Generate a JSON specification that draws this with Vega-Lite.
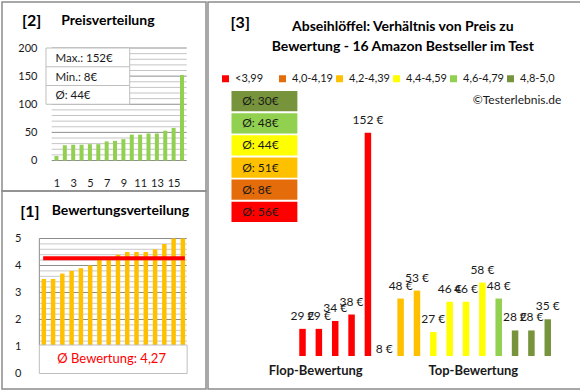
{
  "$schema": "https://vega.github.io/schema/vega-lite/v6.json",
  "padding": {"left": 1, "top": 1, "right": 0, "bottom": 0},
  "background": "white",
  "config": {
    "font": "Lato",
    "view": {"stroke": "#8c8c8c", "strokeWidth": 1.5},
    "axis": {"domain": false, "ticks": false, "tickSize": 0, "grid": false, "labelPadding": 0, "labelFont": "Lato", "labelFontSize": 11, "labelColor": "#1a1a1a", "labelFlush": false, "labelOverlap": false, "labelBound": false},
    "text": {"font": "Lato", "color": "#1a1a1a"}
  },
  "datasets": {
    "produkte": [
      {"pos": 1, "preis": 29, "bewertung": 3.5, "klasse": "<3,99"},
      {"pos": 2, "preis": 29, "bewertung": 3.5, "klasse": "<3,99"},
      {"pos": 3, "preis": 34, "bewertung": 3.7, "klasse": "<3,99"},
      {"pos": 4, "preis": 38, "bewertung": 3.8, "klasse": "<3,99"},
      {"pos": 5, "preis": 152, "bewertung": 3.9, "klasse": "<3,99"},
      {"pos": 6, "preis": 8, "bewertung": 4.0, "klasse": "4,0-4,19"},
      {"pos": 7, "preis": 48, "bewertung": 4.3, "klasse": "4,2-4,39"},
      {"pos": 8, "preis": 53, "bewertung": 4.3, "klasse": "4,2-4,39"},
      {"pos": 9, "preis": 27, "bewertung": 4.4, "klasse": "4,4-4,59"},
      {"pos": 10, "preis": 46, "bewertung": 4.5, "klasse": "4,4-4,59"},
      {"pos": 11, "preis": 46, "bewertung": 4.5, "klasse": "4,4-4,59"},
      {"pos": 12, "preis": 58, "bewertung": 4.5, "klasse": "4,4-4,59"},
      {"pos": 13, "preis": 48, "bewertung": 4.6, "klasse": "4,6-4,79"},
      {"pos": 14, "preis": 28, "bewertung": 4.8, "klasse": "4,8-5,0"},
      {"pos": 15, "preis": 28, "bewertung": 5.0, "klasse": "4,8-5,0"},
      {"pos": 16, "preis": 35, "bewertung": 5.0, "klasse": "4,8-5,0"}
    ],
    "raster2": [
      {"g": 0}, {"g": 10}, {"g": 20}, {"g": 30}, {"g": 40}, {"g": 50}, {"g": 60}, {"g": 70}, {"g": 80}, {"g": 90}, {"g": 100},
      {"g": 110}, {"g": 120}, {"g": 130}, {"g": 140}, {"g": 150}, {"g": 160}, {"g": 170}, {"g": 180}, {"g": 190}, {"g": 200}
    ],
    "raster1": [
      {"g": 1}, {"g": 1.2}, {"g": 1.4}, {"g": 1.6}, {"g": 1.8}, {"g": 2}, {"g": 2.2}, {"g": 2.4}, {"g": 2.6}, {"g": 2.8}, {"g": 3},
      {"g": 3.2}, {"g": 3.4}, {"g": 3.6}, {"g": 3.8}, {"g": 4}, {"g": 4.2}, {"g": 4.4}, {"g": 4.6}, {"g": 4.8}, {"g": 5}
    ]
  },
  "spacing": 0,
  "hconcat": [
    {
      "bounds": "flush",
      "spacing": 0,
      "vconcat": [
        {
          "width": 204,
          "height": 189,
          "data": {"name": "produkte"},
          "layer": [
            {
              "data": {"name": "raster2"},
              "mark": {"type": "rule", "strokeWidth": 1},
              "encoding": {
                "x": {"datum": 0.43, "type": "quantitative", "scale": {"domain": [-4.909, 18.273], "nice": false, "zero": false},
                      "axis": {"values": [1, 3, 5, 7, 9, 11, 13, 15], "orient": "bottom", "offset": -14, "labelBaseline": "top", "labelOverlap": false, "title": null}},
                "x2": {"datum": 16.57},
                "y": {"field": "g", "type": "quantitative", "scale": {"domain": [-54.2, 281.8], "nice": false, "zero": false},
                      "axis": {"values": [0, 50, 100, 150, 200], "orient": "left", "offset": -35, "labelOverlap": false, "title": null}},
                "color": {"condition": {"test": "datum.g % 50 === 0", "value": "#8f8f8f"}, "value": "#c4c4c4"}
              }
            },
            {
              "transform": [{"window": [{"op": "row_number", "as": "nr"}], "sort": [{"field": "preis"}]}],
              "mark": {"type": "bar", "size": 4, "color": "#92D050"},
              "encoding": {
                "x": {"field": "nr", "type": "quantitative", "scale": {"domain": [-4.909, 18.273], "nice": false, "zero": false},
                      "axis": {"values": [1, 3, 5, 7, 9, 11, 13, 15], "orient": "bottom", "offset": -14, "labelBaseline": "top", "labelOverlap": false, "title": null}},
                "y": {"field": "preis", "type": "quantitative", "scale": {"domain": [-54.2, 281.8], "nice": false, "zero": false},
                      "axis": {"values": [0, 50, 100, 150, 200], "orient": "left", "offset": -35, "labelOverlap": false, "title": null}},
                "y2": {"datum": 0}
              }
            },
            {
              "transform": [
                {"aggregate": [{"op": "max", "field": "preis", "as": "mx"}, {"op": "min", "field": "preis", "as": "mn"}, {"op": "mean", "field": "preis", "as": "avg"}]},
                {"calculate": "['Max.: ' + datum.mx + '€', 'Min.: ' + datum.mn + '€', 'Ø: ' + format(datum.avg, '.0f') + '€']", "as": "zeilen"}
              ],
              "encoding": {
                "x": {"datum": -0.25, "type": "quantitative", "scale": {"domain": [-4.909, 18.273], "nice": false, "zero": false},
                      "axis": {"values": [1, 3, 5, 7, 9, 11, 13, 15], "orient": "bottom", "offset": -14, "labelBaseline": "top", "labelOverlap": false, "title": null}},
                "x2": {"datum": 9.75},
                "y": {"datum": 100, "type": "quantitative", "scale": {"domain": [-54.2, 281.8], "nice": false, "zero": false},
                      "axis": {"values": [0, 50, 100, 150, 200], "orient": "left", "offset": -35, "labelOverlap": false, "title": null}}
              },
              "layer": [
                {
                  "mark": {"type": "rect", "fill": "#ffffff", "stroke": "#bfbfbf", "strokeWidth": 1},
                  "encoding": {"y2": {"datum": 200}}
                },
                {
                  "mark": {"type": "rule", "color": "#bfbfbf", "strokeWidth": 1},
                  "encoding": {"y": {"datum": 166.67, "type": "quantitative"}}
                },
                {
                  "mark": {"type": "rule", "color": "#bfbfbf", "strokeWidth": 1},
                  "encoding": {"y": {"datum": 133.33, "type": "quantitative"}}
                },
                {
                  "mark": {"type": "text", "align": "left", "baseline": "middle", "fontSize": 11.5, "lineHeight": 18.67},
                  "encoding": {
                    "x": {"datum": 0.886, "type": "quantitative"},
                    "x2": null,
                    "y": {"datum": 180.47, "type": "quantitative"},
                    "text": {"field": "zeilen", "type": "nominal"}
                  }
                },
                {
                  "mark": {"type": "text", "align": "center", "baseline": "middle", "fontSize": 16, "fontWeight": "bold", "color": "#000000"},
                  "encoding": {
                    "x": {"datum": -1.955, "type": "quantitative"},
                    "x2": null,
                    "y": {"datum": 248, "type": "quantitative"},
                    "text": {"value": "[2]"}
                  }
                },
                {
                  "mark": {"type": "text", "align": "left", "baseline": "middle", "fontSize": 14, "fontWeight": "bold", "color": "#000000"},
                  "encoding": {
                    "x": {"datum": 1.568, "type": "quantitative"},
                    "x2": null,
                    "y": {"datum": 248, "type": "quantitative"},
                    "text": {"value": "Preisverteilung"}
                  }
                }
              ]
            }
          ]
        },
        {
          "width": 204,
          "height": 198,
          "data": {"name": "produkte"},
          "layer": [
            {
              "data": {"name": "raster1"},
              "mark": {"type": "rule", "strokeWidth": 1},
              "encoding": {
                "x": {"datum": 0.518, "type": "quantitative", "scale": {"domain": [-2.969, 17.954], "nice": false, "zero": false}, "axis": null},
                "x2": {"datum": 16.415},
                "y": {"field": "g", "type": "quantitative", "scale": {"domain": [-0.574, 6.759], "nice": false, "zero": false},
                      "axis": {"values": [0, 1, 2, 3, 4, 5], "orient": "left", "offset": -19, "labelOverlap": false, "title": null}},
                "color": {"condition": {"test": "abs(datum.g - round(datum.g)) < 0.01", "value": "#8c8c8c"}, "value": "#c8c8c8"}
              }
            },
            {
              "transform": [{"window": [{"op": "row_number", "as": "nr"}], "sort": [{"field": "bewertung"}]}],
              "mark": {"type": "bar", "size": 4.5, "color": "#FFC000"},
              "encoding": {
                "x": {"field": "nr", "type": "quantitative", "scale": {"domain": [-2.969, 17.954], "nice": false, "zero": false}, "axis": null},
                "y": {"field": "bewertung", "type": "quantitative", "scale": {"domain": [-0.574, 6.759], "nice": false, "zero": false},
                      "axis": {"values": [0, 1, 2, 3, 4, 5], "orient": "left", "offset": -19, "labelOverlap": false, "title": null}},
                "y2": {"datum": 0}
              }
            },
            {
              "mark": {"type": "rule", "color": "#FF0000", "strokeWidth": 4},
              "encoding": {
                "x": {"datum": 0.93, "type": "quantitative", "scale": {"domain": [-2.969, 17.954], "nice": false, "zero": false}, "axis": null},
                "x2": {"datum": 16.21},
                "y": {"aggregate": "mean", "field": "bewertung", "type": "quantitative", "scale": {"domain": [-0.574, 6.759], "nice": false, "zero": false},
                      "axis": {"values": [0, 1, 2, 3, 4, 5], "orient": "left", "offset": -19, "labelOverlap": false, "title": null}}
              }
            },
            {
              "transform": [
                {"aggregate": [{"op": "mean", "field": "bewertung", "as": "m"}]},
                {"calculate": "'Ø Bewertung: ' + replace(format(datum.m, '.2f'), '.', ',')", "as": "txt"}
              ],
              "encoding": {
                "x": {"datum": 0.518, "type": "quantitative", "scale": {"domain": [-2.969, 17.954], "nice": false, "zero": false}, "axis": null},
                "y": {"datum": 0, "type": "quantitative", "scale": {"domain": [-0.574, 6.759], "nice": false, "zero": false},
                      "axis": {"values": [0, 1, 2, 3, 4, 5], "orient": "left", "offset": -19, "labelOverlap": false, "title": null}}
              },
              "layer": [
                {
                  "mark": {"type": "rule", "color": "#8c8c8c", "strokeWidth": 1},
                  "encoding": {"y": {"datum": 1.055, "type": "quantitative"}, "y2": {"datum": 5}}
                },
                {
                  "mark": {"type": "rect", "fill": "#ffffff", "stroke": "#bfbfbf", "strokeWidth": 1},
                  "encoding": {"x2": {"datum": 16.46}, "y2": {"datum": 1.055}}
                },
                {
                  "mark": {"type": "text", "color": "#FF0000", "fontSize": 13, "align": "center", "baseline": "middle"},
                  "encoding": {
                    "x": {"datum": 8.313, "type": "quantitative"},
                    "y": {"datum": 0.537, "type": "quantitative"},
                    "text": {"field": "txt", "type": "nominal"}
                  }
                },
                {
                  "mark": {"type": "text", "fontSize": 16, "fontWeight": "bold", "color": "#000000", "align": "center", "baseline": "middle"},
                  "encoding": {
                    "x": {"datum": -0.508, "type": "quantitative"},
                    "y": {"datum": 5.992, "type": "quantitative"},
                    "text": {"value": "[1]"}
                  }
                },
                {
                  "mark": {"type": "text", "fontSize": 14, "fontWeight": "bold", "color": "#000000", "align": "left", "baseline": "middle"},
                  "encoding": {
                    "x": {"datum": 1.852, "type": "quantitative"},
                    "y": {"datum": 6.018, "type": "quantitative"},
                    "text": {"value": "Bewertungsverteilung"}
                  }
                }
              ]
            }
          ]
        }
      ]
    },
    {
      "width": 373,
      "height": 387,
      "data": {"name": "produkte"},
      "resolve": {"scale": {"y": "independent"}, "axis": {"y": "independent"}},
      "layer": [
        {
          "layer": [
            {
              "transform": [{"filter": "datum.preis >= 12"}],
              "mark": {"type": "bar", "size": 6.5},
              "encoding": {
                "x": {"field": "pos", "type": "quantitative", "scale": {"domain": [-4.475, 17.727], "nice": false, "zero": false},
                      "axis": {"values": [1.774, 11.417], "labelExpr": "datum.value < 6 ? 'Flop-Bewertung' : 'Top-Bewertung'", "orient": "bottom", "offset": -19, "labelBaseline": "middle", "labelFontSize": 13, "labelFontWeight": "bold", "labelOverlap": false, "title": null}},
                "y": {"field": "preis", "type": "quantitative", "scale": {"domain": [-8.7, 233.9], "nice": false, "zero": false}, "axis": null},
                "y2": {"datum": 12},
                "color": {
                  "field": "klasse", "type": "nominal",
                  "scale": {"domain": ["<3,99", "4,0-4,19", "4,2-4,39", "4,4-4,59", "4,6-4,79", "4,8-5,0"], "range": ["#FF0000", "#E46C0A", "#FFC000", "#FFFF00", "#92D050", "#77933C"]},
                  "legend": {"orient": "none", "legendX": 218, "legendY": 71, "direction": "horizontal", "columns": 6, "gridAlign": "all", "title": null, "symbolType": "square", "symbolSize": 49, "symbolStrokeWidth": 0, "labelFontSize": 11, "labelOffset": 4, "columnPadding": 1, "labelColor": "#1a1a1a", "labelFont": "Lato"}
                }
              }
            },
            {
              "transform": [{"calculate": "datum.preis + ' €'", "as": "etikett"}],
              "mark": {"type": "text", "fontSize": 12, "dy": -13, "baseline": "middle", "align": "center"},
              "encoding": {
                "x": {"field": "pos", "type": "quantitative", "scale": {"domain": [-4.475, 17.727], "nice": false, "zero": false},
                      "axis": {"values": [1.774, 11.417], "labelExpr": "datum.value < 6 ? 'Flop-Bewertung' : 'Top-Bewertung'", "orient": "bottom", "offset": -19, "labelBaseline": "middle", "labelFontSize": 13, "labelFontWeight": "bold", "labelOverlap": false, "title": null}},
                "y": {"field": "preis", "type": "quantitative", "scale": {"domain": [-8.7, 233.9], "nice": false, "zero": false}, "axis": null},
                "text": {"field": "etikett", "type": "nominal"}
              }
            },
            {
              "transform": [{"aggregate": [{"op": "count", "as": "n"}]}],
              "layer": [
                {
                  "mark": {"type": "text", "fontSize": 16, "fontWeight": "bold", "color": "#000000", "align": "center", "baseline": "middle"},
                  "encoding": {
                    "x": {"datum": -2.809, "type": "quantitative", "scale": {"domain": [-4.475, 17.727], "nice": false, "zero": false},
                          "axis": {"values": [1.774, 11.417], "labelExpr": "datum.value < 6 ? 'Flop-Bewertung' : 'Top-Bewertung'", "orient": "bottom", "offset": -19, "labelBaseline": "middle", "labelFontSize": 13, "labelFontWeight": "bold", "labelOverlap": false, "title": null}},
                    "y": {"datum": 220.7, "type": "quantitative", "scale": {"domain": [-8.7, 233.9], "nice": false, "zero": false}, "axis": null},
                    "text": {"value": "[3]"}
                  }
                },
                {
                  "mark": {"type": "text", "fontSize": 14, "fontWeight": "bold", "color": "#000000", "align": "center", "baseline": "middle", "lineHeight": 19.5},
                  "encoding": {
                    "x": {"datum": 7.132, "type": "quantitative", "scale": {"domain": [-4.475, 17.727], "nice": false, "zero": false},
                          "axis": {"values": [1.774, 11.417], "labelExpr": "datum.value < 6 ? 'Flop-Bewertung' : 'Top-Bewertung'", "orient": "bottom", "offset": -19, "labelBaseline": "middle", "labelFontSize": 13, "labelFontWeight": "bold", "labelOverlap": false, "title": null}},
                    "y": {"datum": 218.2, "type": "quantitative", "scale": {"domain": [-8.7, 233.9], "nice": false, "zero": false}, "axis": null},
                    "text": {"value": ["Abseihlöffel: Verhältnis von Preis zu", "Bewertung - 16 Amazon Bestseller im Test"]}
                  }
                },
                {
                  "mark": {"type": "text", "fontSize": 12, "align": "right", "baseline": "middle"},
                  "encoding": {
                    "x": {"datum": 16.834, "type": "quantitative", "scale": {"domain": [-4.475, 17.727], "nice": false, "zero": false},
                          "axis": {"values": [1.774, 11.417], "labelExpr": "datum.value < 6 ? 'Flop-Bewertung' : 'Top-Bewertung'", "orient": "bottom", "offset": -19, "labelBaseline": "middle", "labelFontSize": 13, "labelFontWeight": "bold", "labelOverlap": false, "title": null}},
                    "y": {"datum": 172.46, "type": "quantitative", "scale": {"domain": [-8.7, 233.9], "nice": false, "zero": false}, "axis": null},
                    "text": {"value": "©Testerlebnis.de"}
                  }
                }
              ]
            }
          ]
        },
        {
          "transform": [
            {"aggregate": [{"op": "mean", "field": "preis", "as": "avg"}], "groupby": ["klasse"]},
            {"calculate": "'Ø: ' + format(datum.avg, '.0f') + '€'", "as": "label"}
          ],
          "layer": [
            {
              "mark": {"type": "rect"},
              "encoding": {
                "x": {"datum": -3.344, "type": "quantitative", "scale": {"domain": [-4.475, 17.727], "nice": false, "zero": false},
                      "axis": {"values": [1.774, 11.417], "labelExpr": "datum.value < 6 ? 'Flop-Bewertung' : 'Top-Bewertung'", "orient": "bottom", "offset": -19, "labelBaseline": "middle", "labelFontSize": 13, "labelFontWeight": "bold", "labelOverlap": false, "title": null}},
                "x2": {"datum": 0.685},
                "y": {"field": "klasse", "type": "nominal", "scale": {"domain": ["4,8-5,0", "4,6-4,79", "4,4-4,59", "4,2-4,39", "4,0-4,19", "<3,99"], "range": [89, 220], "paddingInner": 0.08, "paddingOuter": 0}, "axis": null},
                "color": {
                  "field": "klasse", "type": "nominal",
                  "scale": {"domain": ["<3,99", "4,0-4,19", "4,2-4,39", "4,4-4,59", "4,6-4,79", "4,8-5,0"], "range": ["#FF0000", "#E46C0A", "#FFC000", "#FFFF00", "#92D050", "#77933C"]},
                  "legend": {"orient": "none", "legendX": 218, "legendY": 71, "direction": "horizontal", "columns": 6, "gridAlign": "all", "title": null, "symbolType": "square", "symbolSize": 49, "symbolStrokeWidth": 0, "labelFontSize": 11, "labelOffset": 4, "columnPadding": 1, "labelColor": "#1a1a1a", "labelFont": "Lato"}
                }
              }
            },
            {
              "mark": {"type": "text", "fontSize": 12, "align": "left", "baseline": "middle"},
              "encoding": {
                "x": {"datum": -2.69, "type": "quantitative", "scale": {"domain": [-4.475, 17.727], "nice": false, "zero": false},
                      "axis": {"values": [1.774, 11.417], "labelExpr": "datum.value < 6 ? 'Flop-Bewertung' : 'Top-Bewertung'", "orient": "bottom", "offset": -19, "labelBaseline": "middle", "labelFontSize": 13, "labelFontWeight": "bold", "labelOverlap": false, "title": null}},
                "y": {"field": "klasse", "type": "nominal", "scale": {"domain": ["4,8-5,0", "4,6-4,79", "4,4-4,59", "4,2-4,39", "4,0-4,19", "<3,99"], "range": [89, 220], "paddingInner": 0.08, "paddingOuter": 0}, "axis": null},
                "text": {"field": "label", "type": "nominal"}
              }
            }
          ]
        }
      ]
    }
  ]
}
